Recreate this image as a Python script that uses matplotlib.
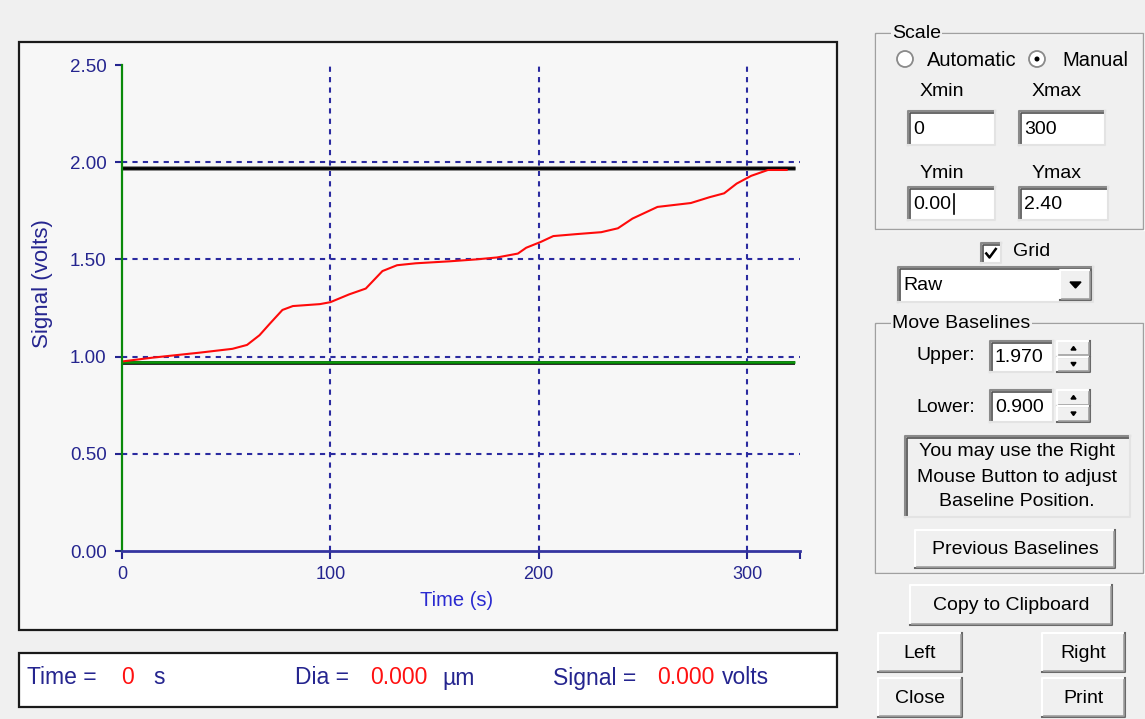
"""
Baseline viewer screen: signal trace with upper/lower baselines plus the
control panel drawn as plain patches and text.
"""

import numpy as np
import matplotlib
matplotlib.use("Agg")
import matplotlib.pyplot as plt
from matplotlib.patches import Rectangle, Circle, Polygon

# ======== Data ========

time_s = [0, 15, 37, 53, 60, 66, 71, 77, 82, 95, 100, 109, 117, 125, 132,
          141, 157, 170, 180, 190, 194, 201, 207, 218, 230, 238, 245, 257,
          273, 282, 289, 295, 302, 310, 319]
signal_v = [0.975, 0.995, 1.02, 1.04, 1.06, 1.11, 1.17, 1.24, 1.26, 1.27,
            1.28, 1.32, 1.35, 1.44, 1.47, 1.48, 1.49, 1.50, 1.51, 1.53, 1.56,
            1.59, 1.62, 1.63, 1.64, 1.66, 1.71, 1.77, 1.79, 1.82, 1.84, 1.89,
            1.93, 1.96, 1.96]

upper_base = 1.97
lower_base = 0.97
base_end = 323

x_ticks = [0, 100, 200, 300]
y_ticks = [0.0, 0.5, 1.0, 1.5, 2.0, 2.5]
x_grid = [100, 200, 300]
y_grid = [0.5, 1.0, 1.5, 2.0]

# panel field values
scale_fields = {"Xmin": "0", "Xmax": "300", "Ymin": "0.00", "Ymax": "2.40"}
upper_txt = "1.970"
lower_txt = "0.900"

NAVY = "#25258f"
GRID = "#2b2ba0"
FONT = "Liberation Sans"
GUI_BG = "#f0f0f0"

plt.rcParams["font.family"] = [FONT, "DejaVu Sans"]

fig = plt.figure(figsize=(11.45, 7.19), dpi=100, facecolor=GUI_BG)

# background axes in pixel coordinates for the GUI chrome
bg = fig.add_axes([0, 0, 1, 1])
bg.set_xlim(0, 1145)
bg.set_ylim(719, 0)
bg.axis("off")


def rect(x0, y0, x1, y1, fc, ec, lw=1.0, z=1):
    bg.add_patch(Rectangle((x0, y0), x1 - x0, y1 - y0, facecolor=fc,
                           edgecolor=ec, linewidth=lw, zorder=z))


def raised(x0, y0, x1, y1, label):
    rect(x0, y0, x1, y1, GUI_BG, "none", z=2)
    bg.plot([x0, x0, x1], [y1, y0, y0], color="white", lw=1.5, zorder=3)
    bg.plot([x0, x1, x1], [y1, y1, y0], color="#696969", lw=1.5, zorder=3)
    bg.plot([x0 + 1.5, x1 - 1.5, x1 - 1.5], [y1 - 1.5, y1 - 1.5, y0 + 1.5],
            color="#a0a0a0", lw=1.2, zorder=3)
    if label:
        bg.text((x0 + x1) / 2, (y0 + y1) / 2 + 1, label, ha="center",
                va="center", fontsize=14, color="black", zorder=4)


def sunken(x0, y0, x1, y1, text=None, fc="white"):
    rect(x0, y0, x1, y1, fc, "none", z=2)
    bg.plot([x0, x0, x1], [y1, y0, y0], color="#8a8a8a", lw=1.5, zorder=3)
    bg.plot([x0 + 1.5, x0 + 1.5, x1 - 1.5], [y1 - 1.5, y0 + 1.5, y0 + 1.5],
            color="#505050", lw=1.2, zorder=3)
    bg.plot([x0, x1, x1], [y1, y1, y0], color="#e3e3e3", lw=1.5, zorder=3)
    if text is not None:
        bg.text(x0 + 5, (y0 + y1) / 2 + 1, text, ha="left", va="center",
                fontsize=14, color="black", zorder=4)


def group(x0, y0, x1, y1, title):
    bg.add_patch(Rectangle((x0 + 1, y0 + 1), x1 - x0, y1 - y0, fill=False,
                           edgecolor="white", lw=1.0, zorder=1))
    bg.add_patch(Rectangle((x0, y0), x1 - x0, y1 - y0, fill=False,
                           edgecolor="#a0a0a0", lw=1.0, zorder=1))
    bg.text(x0 + 17, y0, title, ha="left", va="center", fontsize=14,
            color="black", zorder=4,
            bbox=dict(facecolor=GUI_BG, edgecolor="none", pad=1))


def spinner(x0, y0, x1, y1):
    ym = (y0 + y1) / 2
    raised(x0, y0, x1, ym, None)
    raised(x0, ym, x1, y1, None)
    xc = (x0 + x1) / 2
    bg.add_patch(Polygon([[xc - 2.5, y0 + 9], [xc + 2.5, y0 + 9], [xc, y0 + 5.5]],
                         color="black", zorder=4))
    bg.add_patch(Polygon([[xc - 2.5, ym + 6], [xc + 2.5, ym + 6], [xc, ym + 9.5]],
                         color="black", zorder=4))


# ---- plot panel + status bar ----
rect(19, 42, 837, 630, "#f7f7f7", "#1a1a1a", lw=1.6)
rect(19, 653, 837, 707, "white", "#1a1a1a", lw=1.6)

status_parts = [
    (27, "Time =", NAVY), (121, "0", "#ff1010"), (153, "s", NAVY),
    (295, "Dia =", NAVY), (370, "0.000", "#ff1010"), (442, "µm", NAVY),
    (553, "Signal =", NAVY), (657, "0.000", "#ff1010"), (722, "volts", NAVY),
]
for sx, stxt, scol in status_parts:
    bg.text(sx, 678, stxt, ha="left", va="center", fontsize=16.5, color=scol,
            zorder=4)

# ---- Scale group ----
group(875, 33, 1143, 229, "Scale")
bg.add_patch(Circle((905, 59), 8, facecolor="white", edgecolor="#8a8a8a",
                    lw=1.3, zorder=3))
bg.text(927, 60, "Automatic", ha="left", va="center", fontsize=14.5, zorder=4)
bg.add_patch(Circle((1037, 59), 8, facecolor="white", edgecolor="#8a8a8a",
                    lw=1.3, zorder=3))
bg.add_patch(Circle((1037, 59), 2.5, facecolor="black", edgecolor="none",
                    zorder=4))
bg.text(1062, 60, "Manual", ha="left", va="center", fontsize=14.5, zorder=4)

bg.text(942, 92, "Xmin", ha="center", va="center", fontsize=14, zorder=4)
bg.text(1057, 92, "Xmax", ha="center", va="center", fontsize=14, zorder=4)
sunken(908, 111, 995, 145, scale_fields["Xmin"])
sunken(1019, 111, 1105, 145, scale_fields["Xmax"])
bg.text(942, 173, "Ymin", ha="center", va="center", fontsize=14, zorder=4)
bg.text(1057, 173, "Ymax", ha="center", va="center", fontsize=14, zorder=4)
sunken(908, 187, 995, 220, scale_fields["Ymin"])
sunken(1019, 187, 1108, 220, scale_fields["Ymax"])
bg.plot([954, 954], [194, 214], color="black", lw=1.2, zorder=5)  # caret

# ---- Grid checkbox + combo ----
sunken(981, 243, 1001, 263)
bg.plot([985.5, 989.5, 996.5], [252.5, 257.5, 248], color="black", lw=1.8,
        zorder=5, solid_capstyle="butt")
bg.text(1013, 252, "Grid", ha="left", va="center", fontsize=14, zorder=4)

sunken(898, 267, 1093, 302, "Raw")
raised(1060, 270, 1091, 300, None)
bg.add_patch(Polygon([[1070, 282], [1081, 282], [1075.5, 288]], color="black",
                     zorder=5))

# ---- Move Baselines group ----
group(875, 323, 1143, 573, "Move Baselines")
bg.text(975, 355, "Upper:", ha="right", va="center", fontsize=14, zorder=4)
sunken(990, 341, 1053, 372, upper_txt)
spinner(1057, 341, 1090, 372)
bg.text(975, 408, "Lower:", ha="right", va="center", fontsize=14, zorder=4)
sunken(990, 390, 1053, 422, lower_txt)
spinner(1057, 390, 1090, 422)

sunken(905, 436, 1130, 517, fc=GUI_BG)
for ly, line in zip([452, 477, 502], ["You may use the Right",
                                      "Mouse Button to adjust",
                                      "Baseline Position."]):
    bg.text(1017, ly, line, ha="center", va="center", fontsize=14, zorder=4)

raised(915, 530, 1115, 568, "Previous Baselines")
raised(910, 585, 1112, 625, "Copy to Clipboard")
raised(878, 633, 962, 672, "Left")
raised(1042, 633, 1125, 672, "Right")
raised(878, 678, 962, 717, "Close")
raised(1042, 678, 1125, 717, "Print")

# ---- chart ----
W, H = 1145, 719
ax = fig.add_axes([122 / W, 1 - 551 / H, (800 - 122) / W, (551 - 65) / H])
ax.set_facecolor("none")
ax.set_xlim(0, 325.4)
ax.set_ylim(0, 2.5)

for xv in x_grid:
    ax.axvline(xv, color=GRID, lw=1.5, linestyle=(0, (2.5, 2.5)), zorder=1)
for yv in y_grid:
    ax.axhline(yv, color=GRID, lw=1.5, linestyle=(0, (2.5, 2.5)), zorder=1)

ax.plot([0, base_end], [upper_base, upper_base], color="#8a8a8a", lw=3.6,
        zorder=2, solid_capstyle="butt")
ax.plot([0, base_end], [upper_base, upper_base], color="black", lw=2.0,
        zorder=2.1, solid_capstyle="butt")
ax.plot([0, base_end], [lower_base - 0.004, lower_base - 0.004], color="black",
        lw=2.6, zorder=2, solid_capstyle="butt")
ax.plot([0, base_end], [lower_base, lower_base], color="#0a9a0a", lw=1.8,
        zorder=2.1, solid_capstyle="butt")

ax.plot(time_s, signal_v, color="#ff0a0a", lw=1.5, zorder=3)

for side in ["top", "right"]:
    ax.spines[side].set_visible(False)
ax.spines["left"].set_color("#0a8a0a")
ax.spines["left"].set_linewidth(1.6)
ax.spines["bottom"].set_color("#3535a0")
ax.spines["bottom"].set_linewidth(2.0)
ax.spines["left"].set_zorder(4)
ax.spines["bottom"].set_zorder(4)

ax.set_xticks(x_ticks)
ax.set_xticklabels([str(v) for v in x_ticks])
ax.set_xticks([325.4], minor=True)
ax.set_yticks(y_ticks)
ax.set_yticklabels([f"{v:.2f}" for v in y_ticks])
ax.tick_params(axis="x", which="both", direction="out", length=6, width=1.5,
               color=NAVY, labelcolor=NAVY, labelsize=13, pad=5)
ax.tick_params(axis="y", direction="out", length=5, width=1.5, color=NAVY,
               labelcolor=NAVY, labelsize=13.5, pad=6)

# label anchors: ylabel's anchor is its right edge, xlabel's anchor its top
ax.set_xlabel("Time (s)", fontsize=14.5, color="#2a2ad0")
ax.xaxis.set_label_coords((457 - 122) / (800 - 122), -(591 - 551) / (551 - 65))
ax.set_ylabel("Signal (volts)", fontsize=16, color=NAVY)
ax.yaxis.set_label_coords(-(122 - 53) / (800 - 122), (551 - 284) / (551 - 65))

fig.savefig("out.png", dpi=100, facecolor=GUI_BG)
